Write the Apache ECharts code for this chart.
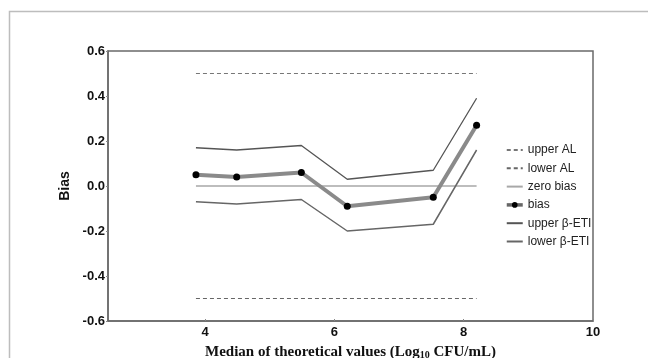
<!DOCTYPE html>
<html>
<head>
<meta charset="utf-8">
<script src="https://cdn.jsdelivr.net/npm/echarts@6/dist/echarts.min.js"></script>
<style>
html,body{margin:0;padding:0;background:#fff;}
#chart{width:648px;height:358px;}
</style>
</head>
<body>
<div id="chart"></div>
<script>
// Data
const xMedian   = [3.86, 4.49, 5.49, 6.20, 7.53, 8.20];
const bias      = [0.05, 0.04, 0.06, -0.09, -0.05, 0.27];
const upperETI  = [0.17, 0.16, 0.18, 0.03, 0.07, 0.39];
const lowerETI  = [-0.07, -0.08, -0.06, -0.20, -0.17, 0.16];
const upperAL   = [0.5, 0.5, 0.5, 0.5, 0.5, 0.5];
const lowerAL   = [-0.5, -0.5, -0.5, -0.5, -0.5, -0.5];
const zeroBias  = [0, 0, 0, 0, 0, 0];
const xTicks    = [4, 6, 8, 10];
const seriesNames = ['upper AL', 'lower AL', 'zero bias', 'bias', 'upper β-ETI', 'lower β-ETI'];

const pairs = ys => xMedian.map((x, i) => [x, ys[i]]);

const chart = echarts.init(document.getElementById('chart'), null, {renderer: 'canvas'});
const sans = 'Liberation Sans, Arial, sans-serif';
const serif = 'Liberation Serif, Times New Roman, serif';
const hidden = {color: 'rgba(0,0,0,0)', borderColor: 'rgba(0,0,0,0)', borderWidth: 0};

chart.setOption({
  animation: false,
  backgroundColor: '#fff',
  graphic: [{
    type: 'rect',
    shape: {x: 9.5, y: 11.5, width: 700, height: 400},
    style: {fill: 'none', stroke: '#bdbdbd', lineWidth: 1.5},
    silent: true, z: -1
  }],
  grid: {
    left: 108, right: 55, top: 51, bottom: 37,
    outerBoundsMode: 'none', containLabel: false,
    show: true, borderColor: '#6a6a6a', borderWidth: 1.5
  },
  legend: {
    orient: 'vertical',
    left: 500, top: 139,
    itemWidth: 16, itemHeight: 7, itemGap: 6.3,
    data: seriesNames.map(n => n === 'bias'
      ? {name: n, lineStyle: {width: 3.5, color: '#666'}}
      : {name: n, itemStyle: hidden}),
    textStyle: {fontFamily: sans, fontSize: 12, color: '#222'}
  },
  xAxis: {
    type: 'value', min: 2.5, max: 10,
    axisLine: {show: true, onZero: false, lineStyle: {color: '#6a6a6a', width: 1.5}},
    axisTick: {show: true, inside: true, length: 2, customValues: xTicks, lineStyle: {color: '#888'}},
    axisLabel: {customValues: xTicks, margin: 5, fontFamily: sans, fontWeight: 'bold', fontSize: 13, color: '#111'},
    splitLine: {show: false},
    name: '{a|Median of theoretical values (Log}{s|10}{a| CFU/mL)}',
    nameLocation: 'middle', nameGap: 23,
    nameTextStyle: {
      rich: {
        a: {fontFamily: serif, fontWeight: 'bold', fontSize: 15, color: '#111'},
        s: {fontFamily: serif, fontWeight: 'bold', fontSize: 10, color: '#111', verticalAlign: 'bottom', padding: [6, 0, 0, 0]}
      }
    }
  },
  yAxis: {
    type: 'value', min: -0.6, max: 0.6, interval: 0.2,
    axisLine: {show: true, onZero: false, lineStyle: {color: '#6a6a6a', width: 1.5}},
    axisTick: {show: true, length: 2, lineStyle: {color: '#888'}},
    axisLabel: {
      margin: 3, fontFamily: sans, fontWeight: 'bold', fontSize: 13, color: '#111',
      formatter: v => v.toFixed(1)
    },
    splitLine: {show: false},
    name: 'Bias', nameLocation: 'middle', nameGap: 32,
    nameTextStyle: {fontFamily: sans, fontWeight: 'bold', fontSize: 14, color: '#111'}
  },
  series: [
    {name: 'upper AL', type: 'line', data: pairs(upperAL), symbol: 'none',
     lineStyle: {color: '#777', width: 1.2, type: [4, 3]}, itemStyle: {color: '#777'}},
    {name: 'lower AL', type: 'line', data: pairs(lowerAL), symbol: 'none',
     lineStyle: {color: '#666', width: 1.2, type: [4, 3]}, itemStyle: {color: '#666'}},
    {name: 'zero bias', type: 'line', data: pairs(zeroBias), symbol: 'none',
     lineStyle: {color: '#a8a8a8', width: 1.5}, itemStyle: {color: '#a8a8a8'}},
    {name: 'upper β-ETI', type: 'line', data: pairs(upperETI), symbol: 'none',
     lineStyle: {color: '#555', width: 1.3}, itemStyle: {color: '#555'}},
    {name: 'lower β-ETI', type: 'line', data: pairs(lowerETI), symbol: 'none',
     lineStyle: {color: '#666', width: 1.5}, itemStyle: {color: '#666'}},
    {name: 'bias', type: 'line', data: pairs(bias), symbol: 'circle', symbolSize: 7,
     lineStyle: {color: '#8a8a8a', width: 4}, itemStyle: {color: '#000'}, z: 5}
  ]
});
</script>
</body>
</html>
